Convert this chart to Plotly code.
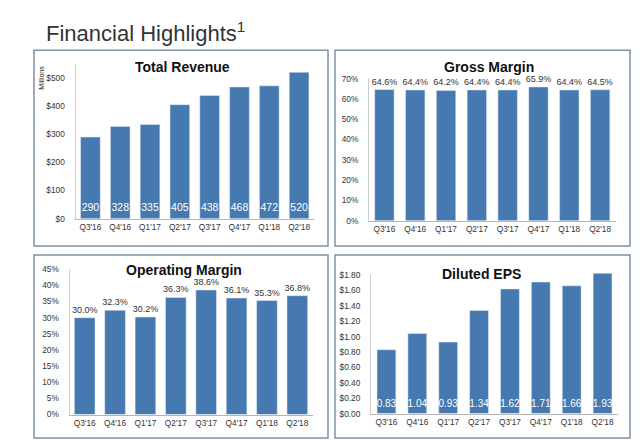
import plotly.graph_objects as go

# data
quarters = ["Q3'16", "Q4'16", "Q1'17", "Q2'17", "Q3'17", "Q4'17", "Q1'18", "Q2'18"]
revenue = [290, 328, 335, 405, 438, 468, 472, 520]
gross_margin = [64.6, 64.4, 64.2, 64.4, 64.4, 65.9, 64.4, 64.5]
op_margin = [30.0, 32.3, 30.2, 36.3, 38.6, 36.1, 35.3, 36.8]
eps = [0.83, 1.04, 0.93, 1.34, 1.62, 1.71, 1.66, 1.93]

rev_ticks = [0, 100, 200, 300, 400, 500]
gm_ticks = [0, 10, 20, 30, 40, 50, 60, 70]
om_ticks = [0, 5, 10, 15, 20, 25, 30, 35, 40, 45]
eps_ticks = [0, 0.2, 0.4, 0.6, 0.8, 1.0, 1.2, 1.4, 1.6, 1.8]

W, H = 640, 440
BLUE = "#4679b0"
FONT = "Liberation Sans, Arial, Helvetica, sans-serif"


def px_x(a, b):
    return [a / W, b / W]


def px_y(top, bottom):
    return [1 - bottom / H, 1 - top / H]


fig = go.Figure()

# Total Revenue
fig.add_trace(go.Bar(x=quarters, y=revenue, width=0.66, marker_color=BLUE,
                     xaxis="x", yaxis="y"))
# white value labels sitting near the bar bases
fig.add_trace(go.Scatter(x=quarters, y=[35] * len(quarters), mode="text",
                         text=[str(v) for v in revenue],
                         textfont=dict(color="white", size=10.5),
                         xaxis="x", yaxis="y"))
# Gross Margin
fig.add_trace(go.Bar(x=quarters, y=gross_margin, width=0.63, marker_color=BLUE,
                     text=["%.1f%%" % v for v in gross_margin], textposition="outside",
                     constraintext="none", cliponaxis=False, textangle=0,
                     textfont=dict(color="#333333", size=9),
                     xaxis="x2", yaxis="y2"))
# Operating Margin
fig.add_trace(go.Bar(x=quarters, y=op_margin, width=0.68, marker_color=BLUE,
                     text=["%.1f%%" % v for v in op_margin], textposition="outside",
                     constraintext="none", cliponaxis=False, textangle=0,
                     textfont=dict(color="#333333", size=9),
                     xaxis="x3", yaxis="y3"))
# Diluted EPS
fig.add_trace(go.Bar(x=quarters, y=eps, width=0.61, marker_color=BLUE,
                     xaxis="x4", yaxis="y4"))
fig.add_trace(go.Scatter(x=quarters, y=[0.12] * len(quarters), mode="text",
                         text=["%.2f" % v for v in eps],
                         textfont=dict(color="white", size=10),
                         xaxis="x4", yaxis="y4"))

xcommon = dict(type="category", showgrid=False, showline=True, linecolor="#b5b5b5",
               linewidth=1, ticks="", tickfont=dict(size=8.3, color="#333333"),
               fixedrange=True)
ycommon = dict(showgrid=False, showline=True, linecolor="#cfcfcf", linewidth=1,
               ticks="", zeroline=False, tickfont=dict(size=8.3, color="#333333"),
               ticklabelstandoff=8)

fig.update_layout(
    width=W, height=H, margin=dict(l=0, r=0, t=0, b=0),
    paper_bgcolor="white", plot_bgcolor="white", showlegend=False,
    font=dict(family=FONT, color="#333333"),
    xaxis=dict(xcommon, domain=px_x(67.5, 306), anchor="y"),
    yaxis=dict(ycommon, domain=px_y(53, 211), range=[0, 550], anchor="x",
               tickvals=rev_ticks, ticktext=["$%d" % v for v in rev_ticks]),
    xaxis2=dict(xcommon, domain=px_x(361, 607.5), anchor="y2"),
    yaxis2=dict(ycommon, domain=px_y(67, 213), range=[0, 70.5], anchor="x2",
                tickvals=gm_ticks, ticktext=["%d%%" % v for v in gm_ticks]),
    xaxis3=dict(xcommon, domain=px_x(61.5, 304.5), anchor="y3"),
    yaxis3=dict(ycommon, domain=px_y(262, 411), range=[0, 45.2], anchor="x3",
                tickvals=om_ticks, ticktext=["%d%%" % v for v in om_ticks]),
    xaxis4=dict(xcommon, domain=px_x(363, 610), anchor="y4"),
    yaxis4=dict(ycommon, domain=px_y(267, 410), range=[0, 1.82], anchor="x4",
                tickvals=eps_ticks, ticktext=["$%.2f" % v for v in eps_ticks]),
)

# panel frames
panels = [(26, 39, 320, 239), (327, 39, 622, 239), (26, 248, 320, 435), (327, 248, 622, 435)]
for x0, y0, x1, y1 in panels:
    fig.add_shape(type="rect", xref="paper", yref="paper",
                  x0=x0 / W, x1=x1 / W, y0=1 - y1 / H, y1=1 - y0 / H,
                  line=dict(color="#7d93a8", width=1.5), fillcolor="rgba(0,0,0,0)")

titles = [("Total Revenue", 174, 56.5), ("Gross Margin", 481, 56),
          ("Operating Margin", 175.5, 263), ("Diluted EPS", 473, 267.5)]
for txt, cx, cy in titles:
    fig.add_annotation(text="<b>%s</b>" % txt, xref="paper", yref="paper",
                       x=cx / W, y=1 - cy / H, showarrow=False,
                       xanchor="center", yanchor="middle",
                       font=dict(size=14, color="#111111"))

fig.add_annotation(text="Financial Highlights<sup>1</sup>", xref="paper", yref="paper",
                   x=36 / W, y=1 - 20 / H, showarrow=False, xanchor="left",
                   yanchor="middle", font=dict(size=22, color="#333333"))
fig.add_annotation(text="Millions", xref="paper", yref="paper",
                   x=34 / W, y=1 - 67 / H, showarrow=False, textangle=-90,
                   xanchor="center", yanchor="middle",
                   font=dict(size=7, color="#222222"))

fig.write_html("out.html")
